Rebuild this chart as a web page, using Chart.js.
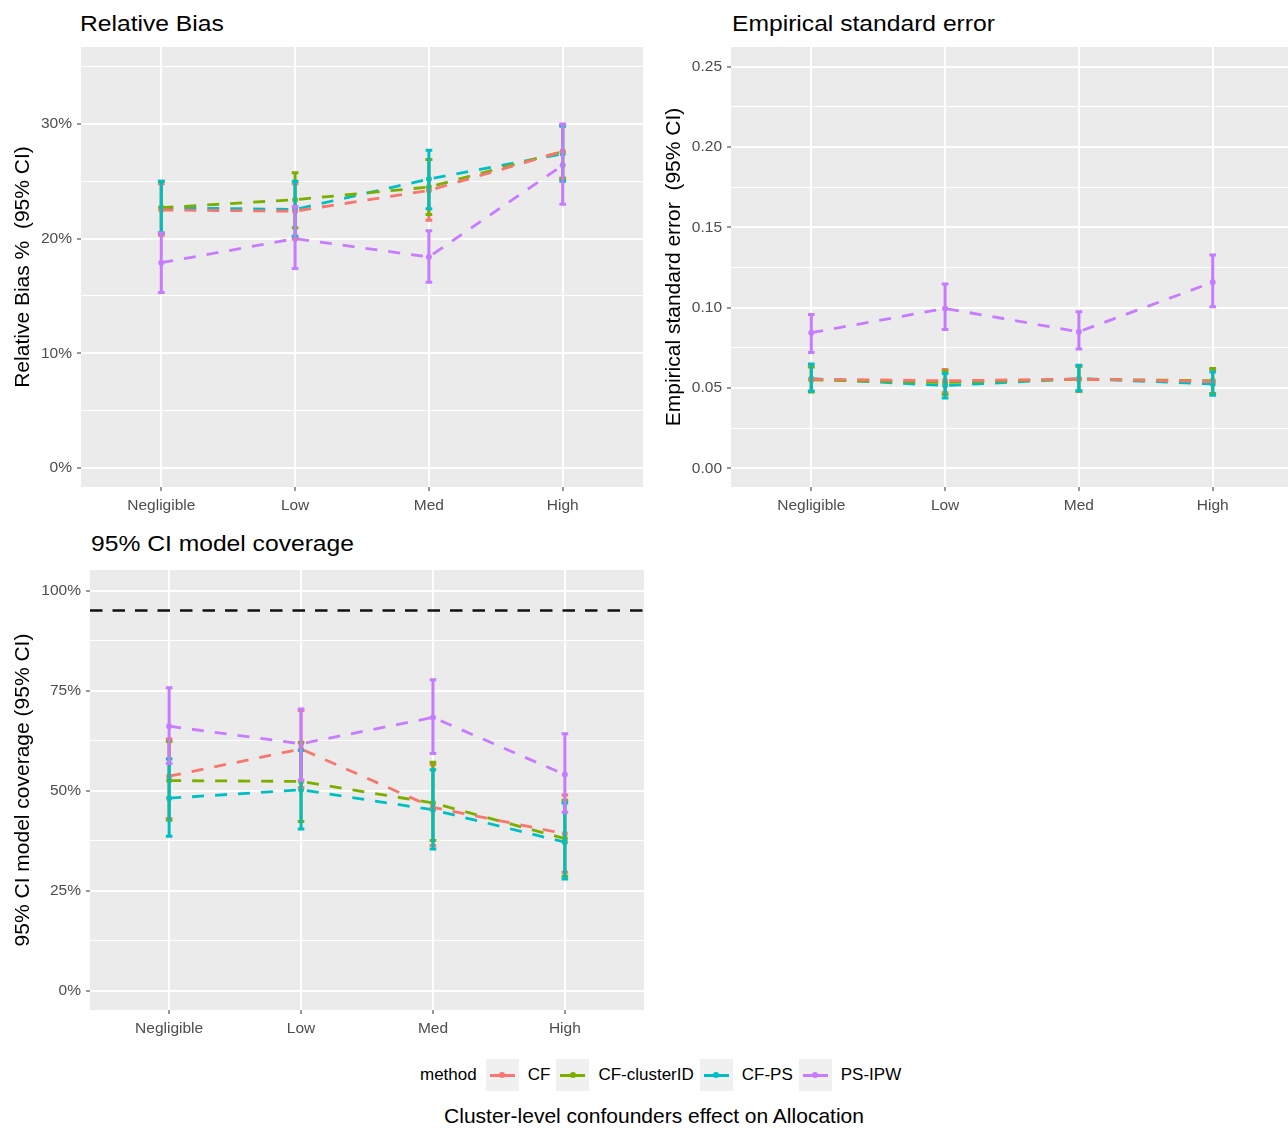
<!DOCTYPE html>
<html>
<head>
<meta charset="utf-8">
<script src="https://cdn.jsdelivr.net/npm/chart.js@4.4.1/dist/chart.umd.min.js"></script>
<style>
    body { margin: 0; width: 1288px; height: 1128px; overflow: hidden; background: #fff; position: relative; font-family: "Liberation Sans", Arial, sans-serif; }
    canvas { position: absolute; }
    .ptitle { position: absolute; font-size: 22px; line-height: 22px; color: #000; white-space: nowrap; transform: scaleX(1.12); transform-origin: left top; }
    #xtitle { position: absolute; left: 354px; width: 600px; top: 1105px; text-align: center; font-size: 21px; line-height: 21px; color: #000; white-space: nowrap; }
    #legend { position: absolute; left: 420px; top: 1059px; height: 32px; display: flex; align-items: center; font-size: 17px; color: #000; white-space: nowrap; }
    .key { position: relative; width: 33px; height: 32px; background: #F0F0F0; }
    .key .ln { position: absolute; left: 4px; right: 4px; top: 15px; height: 2.5px; }
    .key .dot { position: absolute; left: 13.5px; top: 13px; width: 6px; height: 6px; border-radius: 50%; }
</style>
</head>
<body>
<div class="ptitle" style="left:80px;top:13px">Relative Bias</div>
<div class="ptitle" style="left:732px;top:13px">Empirical standard error</div>
<div class="ptitle" style="left:91px;top:533px">95% CI model coverage</div>

<canvas id="bias-chart"></canvas>
<canvas id="se-chart"></canvas>
<canvas id="coverage-chart"></canvas>

<div id="legend"></div>
<div id="xtitle">Cluster-level confounders effect on Allocation</div>

<script>
// categories and methods
const categories = ['Negligible', 'Low', 'Med', 'High'];
const methods = ['CF', 'CF-clusterID', 'CF-PS', 'PS-IPW'];
const methodColors = ['#F8766D', '#7CAE00', '#00BFC4', '#C77CFF'];

// Relative bias % (estimate, lower, upper)
const rbCF = [22.5, 22.4, 24.2, 27.6];
const rbCFLo = [20.3, 20.0, 21.6, 25.3];
const rbCFHi = [24.8, 24.8, 26.9, 29.9];
const rbCluster = [22.7, 23.4, 24.5, 27.6];
const rbClusterLo = [20.5, 20.95, 22.1, 25.2];
const rbClusterHi = [25.0, 25.75, 26.9, 29.9];
const rbPS = [22.7, 22.55, 25.2, 27.4];
const rbPSLo = [20.5, 20.2, 22.6, 25.0];
const rbPSHi = [25.0, 25.0, 27.7, 29.8];
const rbIPW = [17.9, 20.0, 18.4, 26.4];
const rbIPWLo = [15.3, 17.4, 16.2, 23.0];
const rbIPWHi = [20.5, 22.8, 20.7, 30.0];

// Empirical standard error
const seCF = [0.0555, 0.0545, 0.0555, 0.0540];
const seCFLo = [0.0480, 0.0470, 0.0480, 0.0465];
const seCFHi = [0.0635, 0.0615, 0.0635, 0.0615];
const seCluster = [0.0550, 0.0535, 0.0555, 0.0545];
const seClusterLo = [0.0475, 0.0460, 0.0480, 0.0465];
const seClusterHi = [0.0630, 0.0605, 0.0635, 0.0622];
const sePS = [0.0558, 0.0515, 0.0558, 0.0525];
const sePSLo = [0.0480, 0.0438, 0.0482, 0.0455];
const sePSHi = [0.0650, 0.0590, 0.0642, 0.0600];
const seIPW = [0.0844, 0.0995, 0.0850, 0.1158];
const seIPWLo = [0.0721, 0.0864, 0.0742, 0.1006];
const seIPWHi = [0.0958, 0.1147, 0.0975, 0.1328];

// 95% CI model coverage %
const cvCF = [53.6, 60.4, 45.8, 39.2];
const cvCFLo = [43.0, 50.8, 36.3, 29.6];
const cvCFHi = [62.9, 70.0, 56.5, 48.9];
const cvCluster = [52.5, 52.3, 46.9, 38.0];
const cvClusterLo = [42.6, 42.3, 37.5, 28.6];
const cvClusterHi = [62.3, 62.1, 57.1, 47.6];
const cvPS = [48.1, 50.2, 45.2, 37.1];
const cvPSLo = [38.6, 40.4, 35.4, 27.9];
const cvPSHi = [57.9, 60.0, 55.2, 46.9];
const cvIPW = [66.1, 61.7, 68.3, 54.0];
const cvIPWLo = [56.8, 52.6, 59.3, 44.6];
const cvIPWHi = [75.7, 70.4, 77.7, 64.2];
const targetCoverage = 95;

// y ticks (major get a label, minor only a grid line)
const rbMajor = [0, 10, 20, 30];
const rbMinor = [5, 15, 25, 35];
const seMajor = [0, 0.05, 0.10, 0.15, 0.20, 0.25];
const seMinor = [0.025, 0.075, 0.125, 0.175, 0.225];
const cvMajor = [0, 25, 50, 75, 100];
const cvMinor = [12.5, 37.5, 62.5, 87.5];

Chart.defaults.font.family = "'Liberation Sans', Arial, sans-serif";

const PAD_TOP = 30;
const XAXIS_H = 30;

// grey panel like ggplot
const panelBg = {
    id: 'panelBg',
    beforeDraw(chart) {
        const a = chart.chartArea;
        chart.ctx.save();
        chart.ctx.fillStyle = '#EBEBEB';
        chart.ctx.fillRect(a.left, a.top, a.right - a.left, a.bottom - a.top);
        chart.ctx.restore();
    }
};

// error bars with caps, drawn on top of the lines
const errorBars = {
    id: 'errorBars',
    afterDatasetsDraw(chart) {
        const ctx = chart.ctx;
        const x = chart.scales.x, y = chart.scales.y;
        ctx.save();
        ctx.lineWidth = 3;
        chart.data.datasets.forEach(ds => {
            if (!ds.errLo) return;
            ctx.strokeStyle = ds.borderColor;
            ds.errLo.forEach((lo, i) => {
                const px = x.getPixelForValue(i);
                const hw = x.getPixelForValue(i + 0.025) - px;
                const pLo = y.getPixelForValue(lo);
                const pHi = y.getPixelForValue(ds.errHi[i]);
                ctx.beginPath();
                ctx.moveTo(px, pLo); ctx.lineTo(px, pHi);
                ctx.moveTo(px - hw, pLo); ctx.lineTo(px + hw, pLo);
                ctx.moveTo(px - hw, pHi); ctx.lineTo(px + hw, pHi);
                ctx.stroke();
            });
        });
        ctx.restore();
    }
};

function methodDataset(i, est, lo, hi) {
    return {
        label: methods[i],
        data: est.map((v, k) => ({ x: k, y: v })),
        errLo: lo,
        errHi: hi,
        borderColor: methodColors[i],
        backgroundColor: methodColors[i],
        borderWidth: 2.8,
        borderDash: [12, 11],
        pointRadius: 3,
        pointBorderWidth: 0,
        pointBackgroundColor: methodColors[i],
        tension: 0
    };
}

function makePanel(id, area, yw, yMin, yMax, major, minor, fmt, yTitle, datasets) {
    const canvas = document.getElementById(id);
    canvas.width = yw + (area.right - area.left);
    canvas.height = PAD_TOP + (area.bottom - area.top) + XAXIS_H;
    canvas.style.left = (area.left - yw) + 'px';
    canvas.style.top = (area.top - PAD_TOP) + 'px';

    const yTicks = major.map(v => ({ value: v, isMajor: true }))
        .concat(minor.map(v => ({ value: v, isMajor: false })))
        .sort((a, b) => a.value - b.value);

    return new Chart(canvas.getContext('2d'), {
        type: 'line',
        data: { datasets: datasets },
        plugins: [panelBg, errorBars],
        options: {
            responsive: false,
            animation: false,
            layout: { padding: { top: PAD_TOP, left: 0, right: 0, bottom: 0 }, autoPadding: false },
            plugins: { legend: { display: false }, tooltip: { enabled: false } },
            scales: {
                x: {
                    type: 'linear',
                    min: -0.6,
                    max: 3.6,
                    afterBuildTicks: s => { s.ticks = categories.map((c, k) => ({ value: k })); },
                    afterFit: s => { s.height = XAXIS_H; },
                    ticks: {
                        callback: v => categories[Math.round(v)],
                        color: '#4D4D4D',
                        font: { size: 15.5 },
                        padding: 5,
                        autoSkip: false,
                        maxRotation: 0
                    },
                    grid: { color: '#FFFFFF', lineWidth: 2, tickLength: 4, tickColor: '#333333', tickWidth: 1 },
                    border: { display: false }
                },
                y: {
                    type: 'linear',
                    min: yMin,
                    max: yMax,
                    afterBuildTicks: s => { s.ticks = yTicks.map(t => ({ value: t.value, isMajor: t.isMajor })); },
                    afterFit: s => { s.width = yw; },
                    ticks: {
                        callback: (v, k, ticks) => ticks[k].isMajor ? fmt(v) : '',
                        color: '#4D4D4D',
                        font: { size: 15.5 },
                        padding: 5
                    },
                    grid: {
                        color: '#FFFFFF',
                        lineWidth: c => c.tick && c.tick.isMajor ? 2 : 1,
                        tickLength: 4,
                        tickColor: c => c.tick && c.tick.isMajor ? '#333333' : 'rgba(0,0,0,0)',
                        tickWidth: 1
                    },
                    border: { display: false },
                    title: {
                        display: true,
                        text: yTitle,
                        color: '#000',
                        font: { size: 21 },
                        padding: { top: 11, bottom: 0 }
                    }
                }
            }
        }
    });
}

window.onload = function () {
    makePanel('bias-chart', { left: 81, top: 47, right: 643, bottom: 487 }, 81,
        -1.657, 36.715, rbMajor, rbMinor, v => v + '%', 'Relative Bias %  (95% CI)', [
            methodDataset(0, rbCF, rbCFLo, rbCFHi),
            methodDataset(1, rbCluster, rbClusterLo, rbClusterHi),
            methodDataset(2, rbPS, rbPSLo, rbPSHi),
            methodDataset(3, rbIPW, rbIPWLo, rbIPWHi)
        ]);

    makePanel('se-chart', { left: 731, top: 47, right: 1293, bottom: 487 }, 80,
        -0.01164, 0.26226, seMajor, seMinor, v => v.toFixed(2), 'Empirical standard error  (95% CI)', [
            methodDataset(0, seCF, seCFLo, seCFHi),
            methodDataset(1, seCluster, seClusterLo, seClusterHi),
            methodDataset(2, sePS, sePSLo, sePSHi),
            methodDataset(3, seIPW, seIPWLo, seIPWHi)
        ]);

    makePanel('coverage-chart', { left: 90, top: 570, right: 644, bottom: 1010 }, 90,
        -4.85, 105.15, cvMajor, cvMinor, v => v + '%', '95% CI model coverage (95% CI)', [
            {
                label: 'target',
                data: [{ x: -0.6, y: targetCoverage }, { x: 3.6, y: targetCoverage }],
                borderColor: '#111111',
                borderWidth: 2.5,
                borderDash: [12.5, 10],
                pointRadius: 0
            },
            methodDataset(0, cvCF, cvCFLo, cvCFHi),
            methodDataset(1, cvCluster, cvClusterLo, cvClusterHi),
            methodDataset(2, cvPS, cvPSLo, cvPSHi),
            methodDataset(3, cvIPW, cvIPWLo, cvIPWHi)
        ]);

    // shared legend at the bottom
    const legend = document.getElementById('legend');
    let html = '<span style="margin-right:9px">method</span>';
    methods.forEach((m, i) => {
        html += '<div class="key"><div class="ln" style="background:' + methodColors[i] + '"></div>' +
            '<div class="dot" style="background:' + methodColors[i] + '"></div></div>' +
            '<span style="margin:0 6px 0 9px">' + m + '</span>';
    });
    legend.innerHTML = html;
};
</script>
</body>
</html>
